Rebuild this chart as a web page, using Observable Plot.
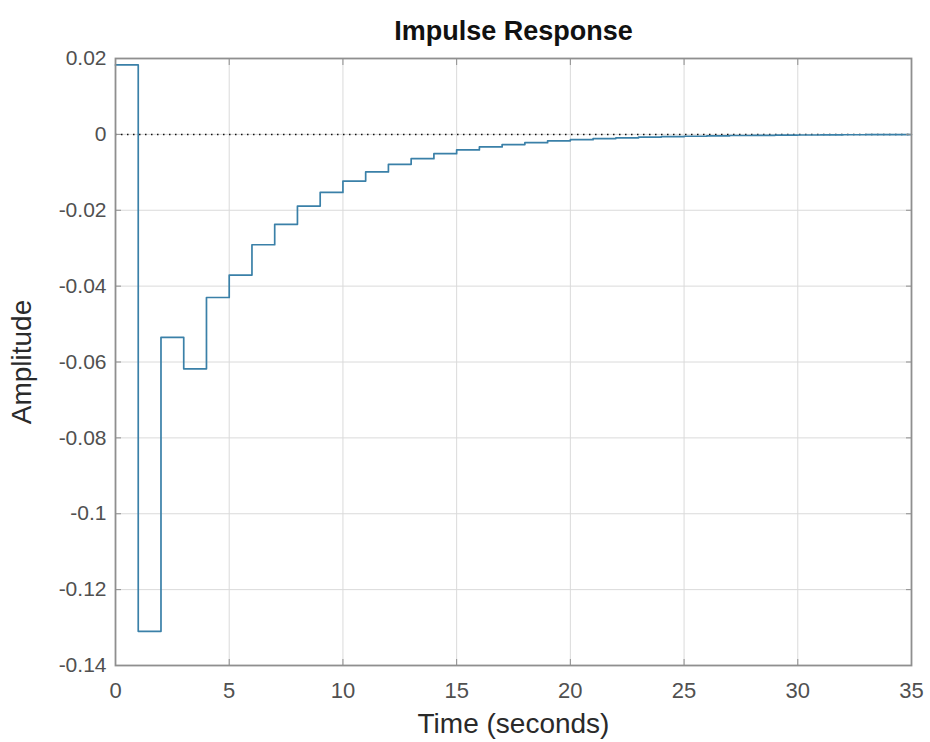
<!DOCTYPE html>
<html>
<head>
<meta charset="utf-8">
<script src="https://cdn.jsdelivr.net/npm/d3@7"></script>
<script src="https://cdn.jsdelivr.net/npm/@observablehq/plot@0.6"></script>
<style>
  html, body { margin: 0; padding: 0; background: #fff; }
</style>
</head>
<body>
<div id="chart"></div>
<script>
const titleText = "Impulse Response";
const xLabel = "Time (seconds)";
const yLabel = "Amplitude";
const xTicks = [0, 5, 10, 15, 20, 25, 30, 35];
const yTicks = [0.02, 0, -0.02, -0.04, -0.06, -0.08, -0.1, -0.12, -0.14];
const times = [0,1,2,3,4,5,6,7,8,9,10,11,12,13,14,15,16,17,18,19,20,21,22,23,24,25,26,27,28,29,30,31,32,33,34,35];
const amplitude = [0.0183, -0.1310, -0.0535, -0.0618, -0.0430, -0.0371, -0.0291, -0.0237, -0.0189, -0.0153,
  -0.0123, -0.0099, -0.0079, -0.0064, -0.0051, -0.0041, -0.0033, -0.0027, -0.0022, -0.0017,
  -0.0014, -0.0011, -0.0009, -0.0007, -0.0006, -0.0005, -0.0004, -0.0003, -0.00025, -0.0002,
  -0.00016, -0.00013, -0.0001, -0.00008, -0.00006, -0.00005];

const data = times.map((t, i) => ({t, a: amplitude[i]}));
const fmt = d => d === 0 ? "0" : String(+d.toFixed(2));

const chart = Plot.plot({
  width: 930,
  height: 742,
  marginLeft: 115,
  marginRight: 19,
  marginTop: 58,
  marginBottom: 77,
  style: {fontFamily: "'Liberation Sans', Arial, sans-serif", background: "#fff"},
  x: {domain: [0, 35], ticks: xTicks},
  y: {domain: [-0.14, 0.02], ticks: yTicks},
  marks: [
    Plot.gridX(xTicks, {stroke: "#dadada", strokeOpacity: 1}),
    Plot.gridY(yTicks, {stroke: "#dadada", strokeOpacity: 1}),
    Plot.ruleY([0], {stroke: "#111", strokeDasharray: "1.5,4.5", strokeWidth: 1.5}),
    Plot.lineY(data, {x: "t", y: "a", curve: "step-after", stroke: "#3a80a8", strokeWidth: 1.7}),
    Plot.frame({stroke: "#8f8f8f", strokeWidth: 1.8}),
    Plot.axisX(xTicks, {anchor: "bottom", tickSize: -6, tickPadding: 23, fontSize: 22, color: "#505050", stroke: "#8f8f8f", tickFormat: fmt, label: null}),
    Plot.axisX(xTicks, {anchor: "top", tickSize: -6, tickFormat: () => "", stroke: "#8f8f8f", label: null}),
    Plot.axisY(yTicks, {anchor: "left", tickSize: -6, tickPadding: 15, fontSize: 21, color: "#505050", stroke: "#8f8f8f", tickFormat: fmt, label: null}),
    Plot.axisY(yTicks, {anchor: "right", tickSize: -6, tickFormat: () => "", stroke: "#8f8f8f", label: null}),
    Plot.text([titleText], {frameAnchor: "top", lineAnchor: "middle", dy: -27, fontSize: 27, fontWeight: "bold", fill: "#111"}),
    Plot.text([xLabel], {frameAnchor: "bottom", lineAnchor: "middle", dy: 59, fontSize: 28, fill: "#2a2a2a"}),
    Plot.text([yLabel], {frameAnchor: "left", textAnchor: "middle", lineAnchor: "middle", dx: -93, rotate: -90, fontSize: 28, fill: "#2a2a2a"})
  ]
});
document.getElementById("chart").appendChild(chart);
</script>
</body>
</html>
